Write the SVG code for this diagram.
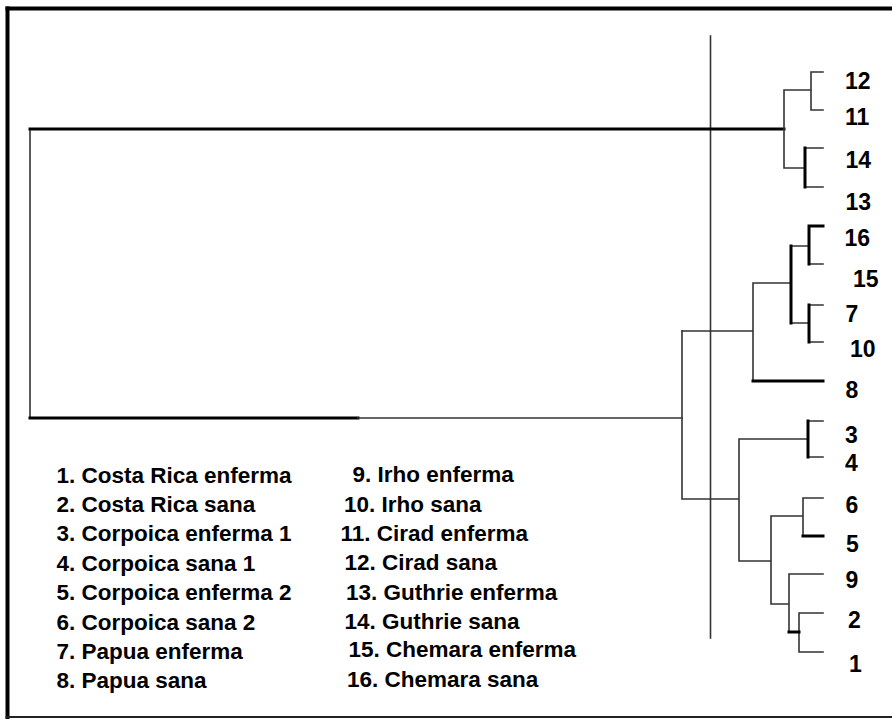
<svg xmlns="http://www.w3.org/2000/svg" width="892" height="719" viewBox="0 0 892 719">
<style>
.thin{stroke:#333;stroke-width:1.6;fill:none;stroke-linecap:square}
.thick{stroke:#000;stroke-width:3;fill:none;stroke-linecap:square}
.lbl{font-family:"Liberation Sans",Arial,sans-serif;font-weight:bold;font-size:23px;fill:#000}
.leg{font-family:"Liberation Sans",Arial,sans-serif;font-weight:bold;font-size:22.5px;fill:#000}
</style>
<rect width="892" height="719" fill="#fff"/>
<g id="frame">
<line x1="7.5" y1="6.5" x2="7.5" y2="719" stroke="#000" stroke-width="4"/>
<line x1="5.5" y1="8.5" x2="892" y2="8.5" stroke="#000" stroke-width="4"/>
<line x1="5.5" y1="717" x2="892" y2="717" stroke="#222" stroke-width="2"/>
</g>
<g id="connectors">
<line class="thin" x1="710.5" y1="36" x2="710.5" y2="638"/>
<path class="thin" d="M30,129 V418"/>
<path class="thick" d="M30,129 H784"/>
<path class="thick" d="M30,418 H358"/>
<path class="thin" d="M358,418 H682"/>
<path class="thin" d="M784,90 V168 M784,90 H811 M811,72 V110 M811,72 H823 M811,110 H823 M784,168 H805 M805,148 H823 M805,187 H823"/>
<path class="thick" d="M805,148 V187"/>
<path class="thin" d="M682,331 H753 M753,283 V381 M753,283 H791 M791,246 H809 M809,264 H823 M791,323 H809 M809,305 H823 M809,342 H823"/>
<path class="thick" d="M791,246 V323 M809,226 V264 M809,226 H823 M809,305 V342 M753,381 H823"/>
<path class="thin" d="M682,331 V499 M682,499 H739 M739,439 V561 M739,439 H808 M808,421 H823 M808,457 H823 M739,561 H771 M771,516 V604 M771,516 H803 M803,498 V536 M803,498 H823 M771,604 H789 M789,574 V632 M789,574 H823 M799,613 V652 M799,613 H823 M799,652 H823"/>
<path class="thick" d="M808,421 V457 M803,536 H823 M789,632 H799"/>
</g>
<g id="leaf-12"><text class="lbl" x="845" y="88.5">12</text></g>
<g id="leaf-11"><text class="lbl" x="845" y="124.5">11</text></g>
<g id="leaf-14"><text class="lbl" x="845.5" y="167.5">14</text></g>
<g id="leaf-13"><text class="lbl" x="845.5" y="210">13</text></g>
<g id="leaf-16"><text class="lbl" x="844.5" y="246">16</text></g>
<g id="leaf-15"><text class="lbl" x="853" y="286.5">15</text></g>
<g id="leaf-7"><text class="lbl" x="845.5" y="321.5">7</text></g>
<g id="leaf-10"><text class="lbl" x="850" y="356.5">10</text></g>
<g id="leaf-8"><text class="lbl" x="845.5" y="398">8</text></g>
<g id="leaf-3"><text class="lbl" x="845" y="442.5">3</text></g>
<g id="leaf-4"><text class="lbl" x="845" y="471">4</text></g>
<g id="leaf-6"><text class="lbl" x="845.5" y="513">6</text></g>
<g id="leaf-5"><text class="lbl" x="846" y="551.5">5</text></g>
<g id="leaf-9"><text class="lbl" x="845.5" y="588">9</text></g>
<g id="leaf-2"><text class="lbl" x="848" y="627.5">2</text></g>
<g id="leaf-1"><text class="lbl" x="849" y="671.5">1</text></g>
<g id="legend">
<text class="leg" x="56.5" y="482.5">1. Costa Rica enferma</text>
<text class="leg" x="56.5" y="511.9">2. Costa Rica sana</text>
<text class="leg" x="56.5" y="541.3">3. Corpoica enferma 1</text>
<text class="leg" x="56.5" y="570.7">4. Corpoica sana 1</text>
<text class="leg" x="56.5" y="600.1">5. Corpoica enferma 2</text>
<text class="leg" x="56.5" y="629.5">6. Corpoica sana 2</text>
<text class="leg" x="56.5" y="658.9">7. Papua enferma</text>
<text class="leg" x="56.5" y="688.3">8. Papua sana</text>
<text class="leg" x="352.5" y="482.3">9. Irho enferma</text>
<text class="leg" x="344" y="511.7">10. Irho sana</text>
<text class="leg" x="340.5" y="540.7">11. Cirad enferma</text>
<text class="leg" x="344.5" y="570">12. Cirad sana</text>
<text class="leg" x="346" y="599.5">13. Guthrie enferma</text>
<text class="leg" x="344.5" y="628.5">14. Guthrie sana</text>
<text class="leg" x="348.5" y="657.3">15. Chemara enferma</text>
<text class="leg" x="347" y="686.7">16. Chemara sana</text>
</g>
</svg>
